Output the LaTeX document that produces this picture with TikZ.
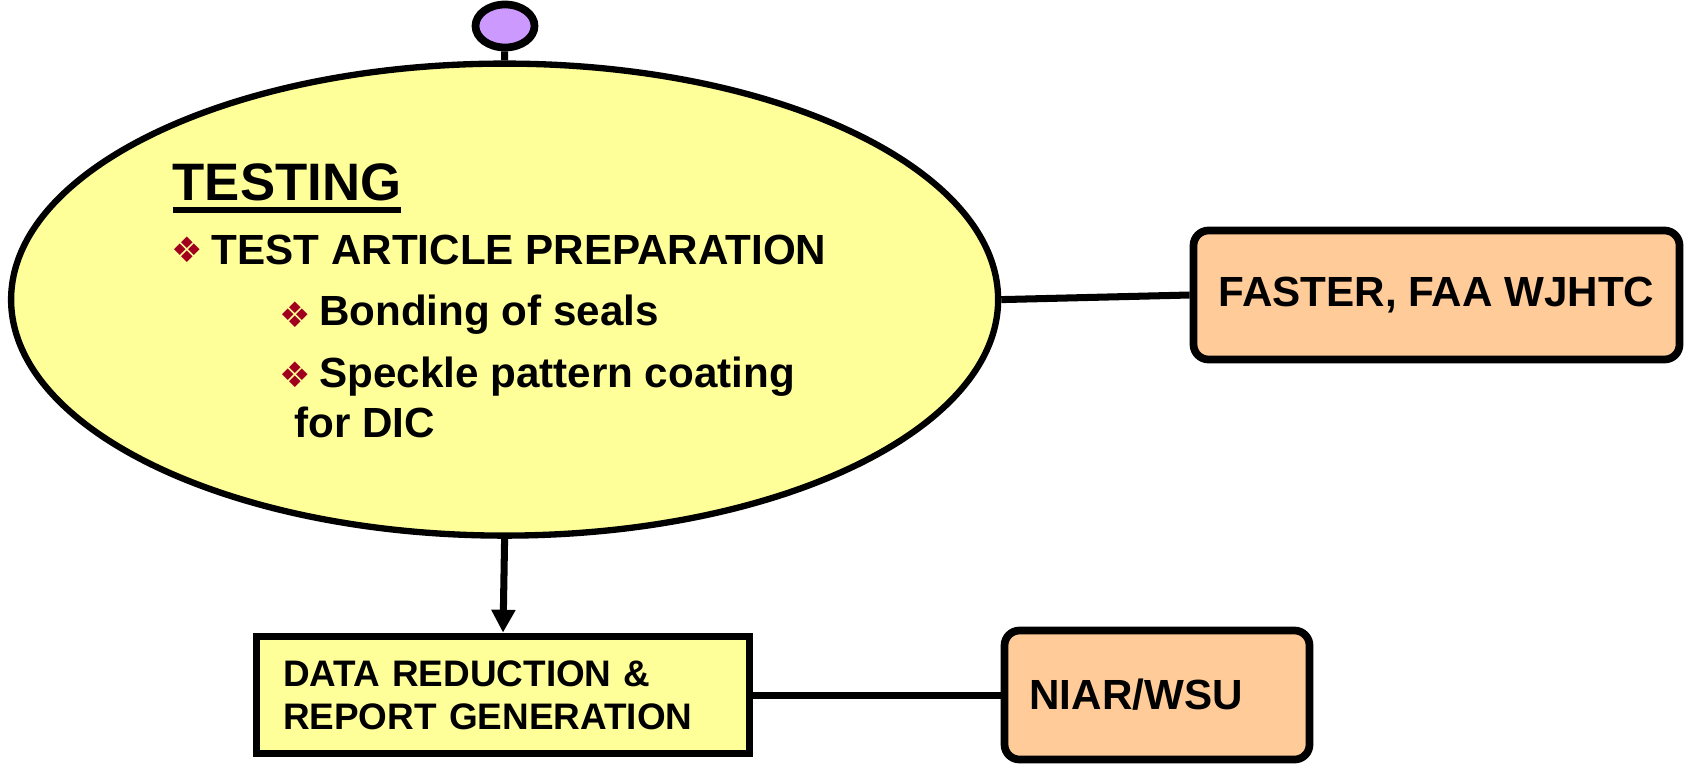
\documentclass[tikz,border=0pt]{standalone}
\usepackage{fontspec}
\setmainfont{Liberation Sans}
\newfontfamily\dejavu{DejaVu Sans}
\usepackage{tikz}
\usetikzlibrary{shapes.geometric, arrows.meta, positioning}
\newcommand{\thickuline}[1]{\setbox0\hbox{#1}\rlap{\rule[-3.6pt]{\wd0}{1.7pt}}\box0}
\definecolor{ovalyellow}{HTML}{FFFF99}
\definecolor{boxorange}{HTML}{FFCC99}
\definecolor{knobpurple}{HTML}{CC99FF}
\definecolor{bulred}{HTML}{A0001E}
\tikzstyle{oval} = [ellipse, draw, line width=1.8pt, fill=ovalyellow, inner sep=0pt]
\tikzstyle{partner} = [draw, line width=2.2pt, fill=boxorange, rounded corners=0.15cm, font=\bfseries\fontsize{12}{14}\selectfont]
\tikzstyle{task} = [draw, line width=2.2pt, fill=ovalyellow, font=\bfseries\fontsize{10.5}{12.3}\selectfont]
\tikzstyle{txt} = [anchor=base west, inner sep=0pt, font=\bfseries\fontsize{12}{14}\selectfont]
\tikzstyle{bul} = [inner sep=0pt, text=bulred, font=\dejavu\fontsize{10}{10}\selectfont]
\tikzstyle{link} = [line width=2pt]
\tikzstyle{arrow} = [line width=2pt, -{Triangle[width=6.5pt, length=6.5pt]}]

\begin{document}
\begin{tikzpicture}
\useasboundingbox (0,0) rectangle (16.87,-7.68);

% main testing oval and its knob
\node[oval, minimum width=9.87cm, minimum height=4.72cm] (testing) at (5.046,-2.996) {};
\node[ellipse, draw, line width=2.2pt, fill=knobpurple, minimum width=0.59cm, minimum height=0.43cm, inner sep=0pt] (knob) at (5.05,-0.26) {};
\draw[link] (knob) -- (testing.north);

% text inside the oval
\node[txt, font=\bfseries\fontsize{15}{18}\selectfont] (title) at (1.72,-2.0) {\thickuline{TESTING}};
\node[bul] (b1) at (1.87,-2.50) {❖};
\node[txt] (prep) at (2.11,-2.647) {TEST ARTICLE PREPARATION};
\node[bul] (b2) at (2.95,-3.15) {❖};
\node[txt] (bond) at (3.185,-3.25) {Bonding of seals};
\node[bul] (b3) at (2.95,-3.75) {❖};
\node[txt] (speckle) at (3.185,-3.875) {Speckle pattern coating};
\node[txt] (dic) at (2.937,-4.37) {for DIC};

% boxes
\node[partner, minimum width=4.86cm, minimum height=1.29cm] (faster) at (14.365,-2.95) {FASTER, FAA WJHTC};
\node[task, minimum width=4.93cm, minimum height=1.17cm, text width=4.4cm, align=left] (report) at (5.03,-6.95) {DATA REDUCTION \&\\REPORT GENERATION};
\node[partner, minimum width=3.05cm, minimum height=1.29cm, text width=2.55cm, align=left] (niar) at (11.57,-6.95) {NIAR/WSU};

% connectors
\draw[link] (testing.east) -- (faster.west);
\draw[arrow] (testing.south) -- (report.north);
\draw[link] (report.east) -- (niar.west);
\end{tikzpicture}
\end{document}
